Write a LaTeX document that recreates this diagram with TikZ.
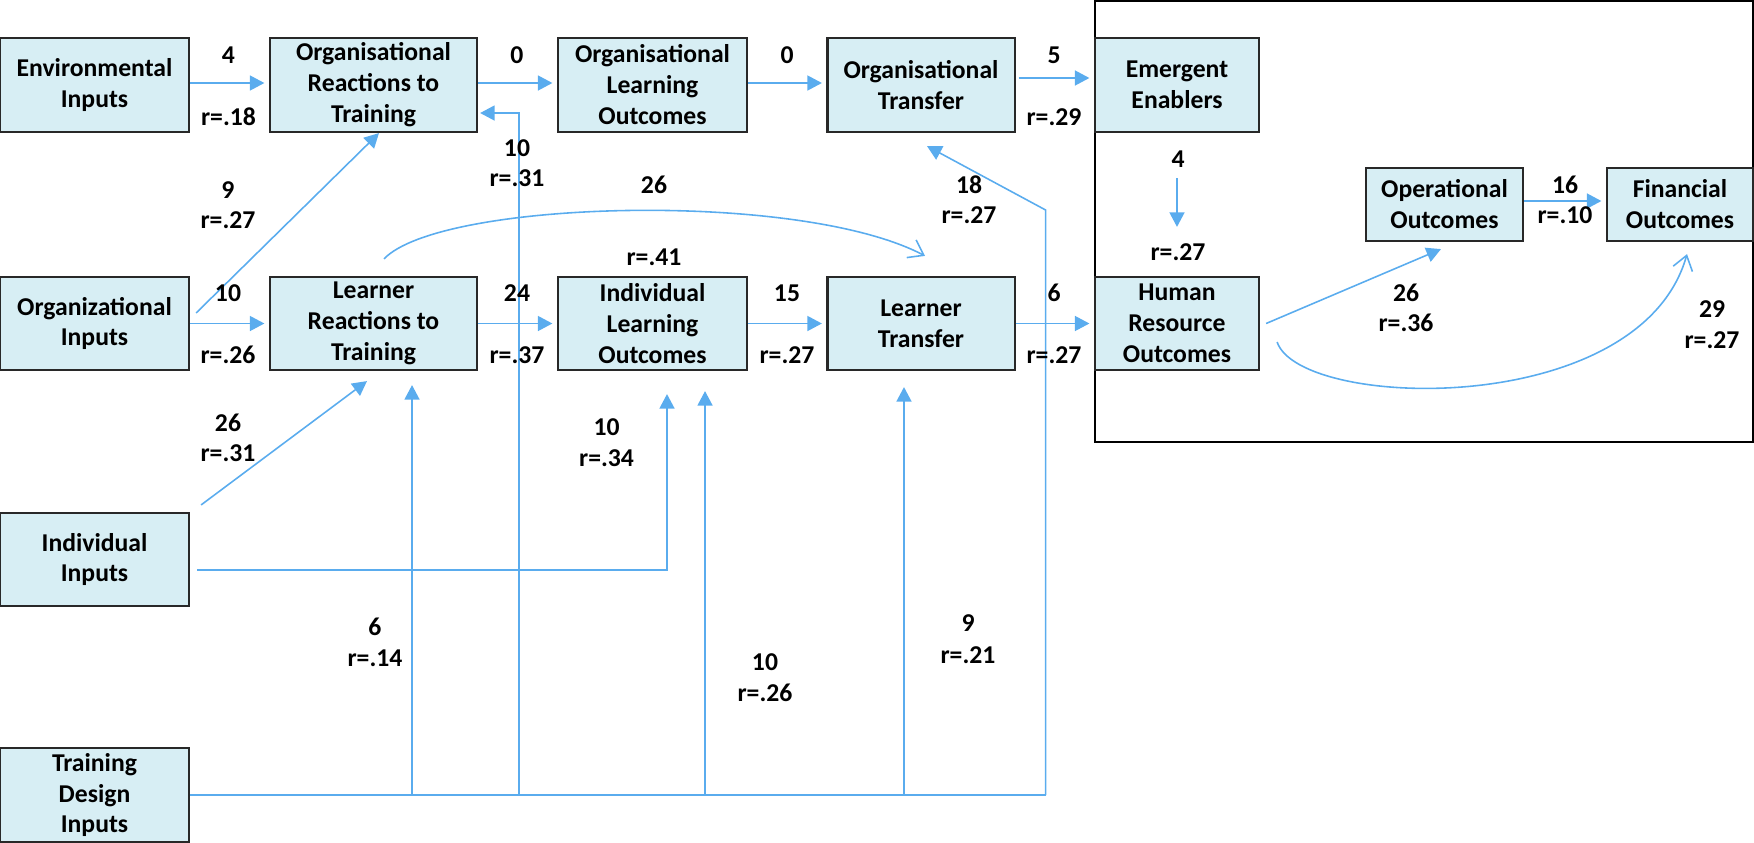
\documentclass[tikz,border=0pt]{standalone}
\usepackage{fontspec}
\setmainfont{Carlito}
\usetikzlibrary{arrows.meta,calc}
\definecolor{lnblue}{RGB}{90,172,238}
\definecolor{boxfill}{RGB}{215,238,244}
\definecolor{boxdraw}{RGB}{40,40,40}
\begin{document}
\begin{tikzpicture}[x=0.01cm,y=-0.01cm,
  box/.style={draw=boxdraw, line width=0.6pt, fill=boxfill, align=center, inner sep=0pt, font=\fontsize{7.3}{8.8}\selectfont\bfseries},
  lab/.style={inner sep=0pt, font=\fontsize{7.3}{8.8}\selectfont\bfseries},
  arr/.style={draw=lnblue, line width=0.45pt, -{Triangle[length=0.145cm,width=0.15cm]}},
  lin/.style={draw=lnblue, line width=0.45pt},
  oarr/.style={draw=lnblue, line width=0.45pt, -{Straight Barb[length=0.14cm,width=0.2cm]}},
  gap/.style={shorten >=0.045cm}
]
\useasboundingbox (0,0) rectangle (1754,842);
% frame
\node[draw=black, line width=0.5pt, minimum width=6.58cm, minimum height=4.41cm, inner sep=0pt] (frame) at (1424,221.5) {};
% boxes row 1
\node[box, minimum width=1.89cm, minimum height=0.94cm] (env) at (94.5,85) {Environmental\\Inputs};
\node[box, minimum width=2.07cm, minimum height=0.94cm] (orgreact) at (373.5,85) {Organisational\\Reactions to\\Training};
\node[box, minimum width=1.89cm, minimum height=0.94cm] (orglearn) at (652.5,85) {Organisational\\Learning\\Outcomes};
\node[box, minimum width=1.87cm, minimum height=0.94cm] (orgtrans) at (921,85) {Organisational\\Transfer};
\node[box, minimum width=1.64cm, minimum height=0.94cm] (emerg) at (1177,85) {Emergent\\Enablers};
% row 2
\node[box, minimum width=1.89cm, minimum height=0.93cm] (orgin) at (94.5,323.5) {Organizational\\Inputs};
\node[box, minimum width=2.07cm, minimum height=0.93cm] (lreact) at (373.5,323.5) {Learner\\Reactions to\\Training};
\node[box, minimum width=1.89cm, minimum height=0.93cm] (indlearn) at (652.5,323.5) {Individual\\Learning\\Outcomes};
\node[box, minimum width=1.87cm, minimum height=0.93cm] (ltrans) at (921,323.5) {Learner\\Transfer};
\node[box, minimum width=1.64cm, minimum height=0.93cm] (hr) at (1177,323.5) {Human\\Resource\\Outcomes};
% outcomes
\node[box, minimum width=1.57cm, minimum height=0.73cm] (oper) at (1444.5,204.5) {Operational\\Outcomes};
\node[box, minimum width=1.46cm, minimum height=0.73cm] (fin) at (1680,204.5) {Financial\\Outcomes};
% inputs
\node[box, minimum width=1.89cm, minimum height=0.93cm] (indin) at (94.5,559.5) {Individual\\Inputs};
\node[box, minimum width=1.89cm, minimum height=0.94cm] (tdin) at (94.5,795) {Training\\Design\\Inputs};

% row 1 arrows
\draw[arr,gap] ([yshift=0.02cm]env.east) -- ([yshift=0.02cm]orgreact.west);
\draw[arr,gap] ([yshift=0.02cm]orgreact.east) -- ([yshift=0.02cm]orglearn.west);
\draw[arr,gap] ([yshift=0.02cm]orglearn.east) -- ([yshift=0.02cm]orgtrans.west);
\draw[arr,gap] ([xshift=0.03cm,yshift=0.07cm]orgtrans.east) -- ([yshift=0.07cm]emerg.west);
% row 2 arrows
\draw[arr,gap] (orgin.east) -- (lreact.west);
\draw[arr,gap] (lreact.east) -- (indlearn.west);
\draw[arr,gap] (indlearn.east) -- (ltrans.west);
\draw[arr,gap] (ltrans.east) -- (hr.west);
% emergent -> hr
\draw[arr] ([yshift=-0.45cm]emerg.south) -- ([yshift=0.49cm]hr.north);
% org inputs -> org reactions
\draw[arr] ([xshift=0.06cm,yshift=0.105cm]orgin.east) -- ([xshift=0.055cm]orgreact.south);
% individual inputs -> learner reactions
\draw[arr] ([xshift=0.11cm,yshift=0.07cm]indin.north east) -- ([xshift=-0.065cm,yshift=-0.1cm]lreact.south);
% individual inputs -> individual learning
\coordinate (t10a) at ([xshift=0.145cm,yshift=-0.23cm]indlearn.south);
\draw[arr] ([xshift=0.07cm,yshift=-0.105cm]indin.east) -| (t10a);
% training design trunk and branches
\coordinate (k18) at (1045.6,210);
\coordinate (t18) at ([xshift=0.06cm,yshift=-0.13cm]orgtrans.south);
\coordinate (x519) at (519,0);
\coordinate (t10) at ([xshift=0.02cm,yshift=-0.28cm]orgreact.east);
\coordinate (t6) at ([xshift=0.385cm,yshift=-0.14cm]lreact.south);
\coordinate (t10b) at ([xshift=0.525cm,yshift=-0.2cm]indlearn.south);
\coordinate (t9b) at ([xshift=-0.17cm,yshift=-0.16cm]ltrans.south);
\draw[lin] (tdin.east) -- (tdin.east -| k18);
\draw[arr] (tdin.east -| t6) -- (t6);
\draw[arr] (tdin.east -| x519) |- (t10);
\draw[arr] (tdin.east -| t10b) -- (t10b);
\draw[arr] (tdin.east -| t9b) -- (t9b);
\draw[arr] (tdin.east -| k18) -- (k18) -- (t18);
% curve learner reactions -> learner transfer
\draw[oarr] ([xshift=0.105cm,yshift=0.17cm]lreact.north) .. controls (440,200) and (800,190) .. ([xshift=0.04cm,yshift=0.2cm]ltrans.north);
% hr -> operational
\draw[arr] ([xshift=0.06cm]hr.east) -- ([xshift=-0.035cm,yshift=-0.07cm]oper.south);
% operational -> financial
\draw[arr,gap] ([yshift=0.035cm]oper.east) -- ([yshift=0.035cm]fin.west);
% hr -> financial curve
\draw[oarr] ([xshift=0.17cm,yshift=-0.185cm]hr.east) .. controls (1300,410) and (1640,420) .. ([xshift=0.07cm,yshift=-0.12cm]fin.south);

% labels
\node[lab] (a1) at (228.5,55) {4};   \node[lab] (b1) at (228.5,117) {r=.18};
\node[lab] (a2) at (517,55) {0};
\node[lab] (a3) at (517,148) {10};   \node[lab] (b3) at (517,178) {r=.31};
\node[lab] (a4) at (787,55) {0};
\node[lab] (a5) at (1054,55) {5};    \node[lab] (b5) at (1054,117) {r=.29};
\node[lab] (a6) at (228,190) {9};    \node[lab] (b6) at (228,220) {r=.27};
\node[lab] (a7) at (654,185) {26};   \node[lab] (b7) at (654,257) {r=.41};
\node[lab] (a8) at (969,185) {18};   \node[lab] (b8) at (969,215) {r=.27};
\node[lab] (a9) at (1178,159) {4};   \node[lab] (b9) at (1178,252) {r=.27};
\node[lab] (a10) at (1565,185) {16}; \node[lab] (b10) at (1565,215) {r=.10};
\node[lab] (a11) at (228,293) {10};  \node[lab] (b11) at (228,355) {r=.26};
\node[lab] (a12) at (517,293) {24};  \node[lab] (b12) at (517,355) {r=.37};
\node[lab] (a13) at (787,293) {15};  \node[lab] (b13) at (787,355) {r=.27};
\node[lab] (a14) at (1054,293) {6};  \node[lab] (b14) at (1054,355) {r=.27};
\node[lab] (a15) at (1406,293) {26}; \node[lab] (b15) at (1406,323) {r=.36};
\node[lab] (a16) at (1712,309) {29}; \node[lab] (b16) at (1712,340) {r=.27};
\node[lab] (a17) at (228,423) {26};  \node[lab] (b17) at (228,453) {r=.31};
\node[lab] (a18) at (606.6,427) {10}; \node[lab] (b18) at (606.6,458) {r=.34};
\node[lab] (a19) at (375,627) {6};   \node[lab] (b19) at (375,658) {r=.14};
\node[lab] (a20) at (765,662) {10};  \node[lab] (b20) at (765,693) {r=.26};
\node[lab] (a21) at (968,623) {9};   \node[lab] (b21) at (968,655) {r=.21};
\end{tikzpicture}
\end{document}
